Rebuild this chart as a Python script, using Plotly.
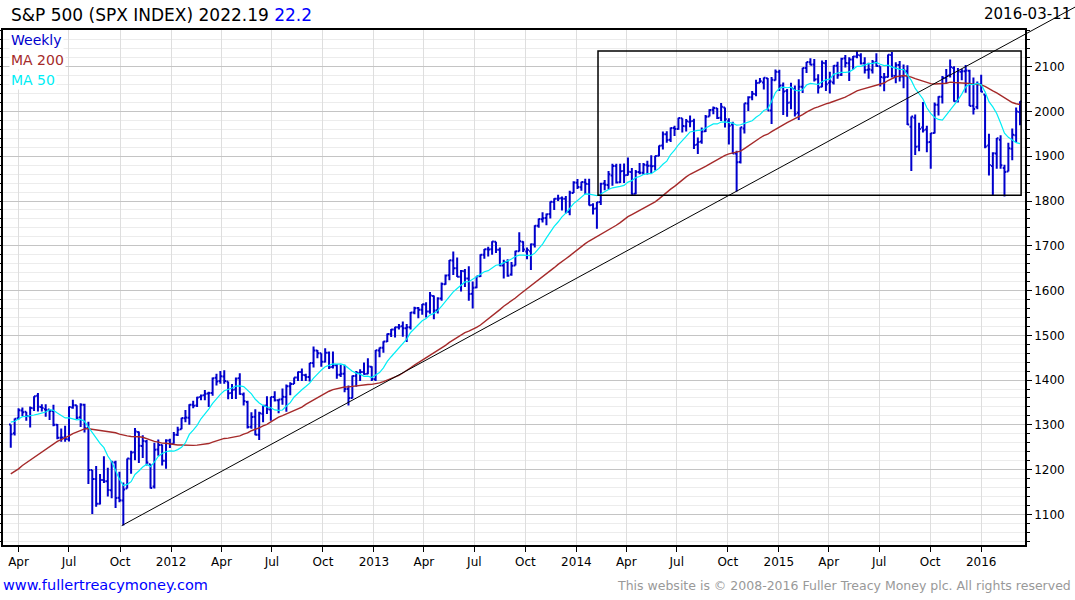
import pandas as pd
import plotly.graph_objects as go

# ---------------- data (weekly S&P 500 bars, week ending Friday) ----------------
first_week = "2011-03-18"
n_weeks = 261

# weekly closes before the visible window (used only to seed the moving averages)
pre_closes = [1064.9, 1091.6, 1117.5, 1076.8, 1022.6, 1078.0, 1064.9, 1102.7, 1101.6, 1121.6,
              1079.3, 1071.7, 1064.6, 1104.5, 1109.6, 1125.6, 1148.7, 1146.2, 1165.2, 1176.2,
              1183.1, 1183.3, 1225.9, 1199.2, 1199.7, 1189.4, 1224.7, 1240.4, 1243.9, 1256.8,
              1257.6, 1271.5, 1293.2, 1283.4, 1276.3, 1310.9, 1329.2, 1343.0, 1319.9, 1321.2,
              1304.3]

opens_2011 = [1301, 1281, 1315, 1332, 1329, 1319, 1337, 1365, 1340, 1335, 1334, 1331, 1300, 1271, 1272,
              1268, 1339, 1344, 1317, 1345, 1293, 1199, 1179, 1124, 1177, 1174, 1154, 1216, 1137, 1131,
              1158, 1224, 1239, 1284, 1253, 1263, 1212, 1162, 1245, 1255, 1220, 1265]
highs_2011 = [1301, 1314, 1337, 1339, 1329, 1341, 1364, 1371, 1346, 1346, 1334, 1345, 1302, 1292, 1298,
              1341, 1356, 1344, 1348, 1347, 1307, 1199, 1208, 1190, 1230, 1204, 1220, 1220, 1195, 1171,
              1225, 1242, 1293, 1285, 1277, 1266, 1212, 1260, 1267, 1256, 1268, 1269]
lows_2011 = [1249, 1276, 1312, 1320, 1309, 1294, 1331, 1330, 1330, 1318, 1311, 1297, 1268, 1262, 1262,
             1263, 1336, 1313, 1295, 1283, 1168, 1101, 1117, 1122, 1170, 1140, 1136, 1114, 1127, 1075,
             1158, 1191, 1221, 1215, 1226, 1209, 1158, 1158, 1231, 1209, 1202, 1248]
closes_2011 = [1279.2, 1313.8, 1332.4, 1328.2, 1319.7, 1337.4, 1363.6, 1340.2, 1337.8, 1333.3, 1331.1,
               1300.2, 1271.0, 1271.5, 1268.5, 1339.7, 1343.8, 1316.1, 1345.0, 1292.3, 1199.4, 1178.8,
               1123.5, 1176.8, 1174.0, 1154.2, 1216.0, 1136.4, 1131.4, 1155.5, 1224.6, 1238.3, 1285.1,
               1253.2, 1263.9, 1215.7, 1158.7, 1244.3, 1255.2, 1219.7, 1265.3, 1257.6]

opens_2012 = [1258, 1278, 1290, 1315, 1316, 1345, 1343, 1362, 1366, 1370, 1371, 1405, 1398, 1408, 1397,
              1371, 1379, 1404, 1368, 1351, 1296, 1318, 1278, 1325, 1343, 1334, 1362, 1355, 1357, 1362,
              1386, 1391, 1406, 1418, 1411, 1407, 1438, 1466, 1460, 1441, 1461, 1429, 1433, 1412, 1414,
              1380, 1360, 1409, 1416, 1418, 1414, 1430]
highs_2012 = [1284, 1296, 1316, 1333, 1346, 1354, 1363, 1368, 1378, 1374, 1406, 1414, 1420, 1422, 1397,
              1391, 1406, 1415, 1372, 1354, 1328, 1335, 1329, 1343, 1364, 1363, 1375, 1357, 1381, 1390,
              1395, 1406, 1419, 1426, 1414, 1438, 1475, 1467, 1460, 1471, 1464, 1464, 1436, 1434, 1434,
              1388, 1410, 1420, 1424, 1439, 1449, 1431]
lows_2012 = [1258, 1275, 1290, 1306, 1300, 1337, 1340, 1355, 1355, 1340, 1365, 1388, 1392, 1392, 1357,
             1358, 1358, 1367, 1343, 1292, 1291, 1277, 1266, 1306, 1324, 1309, 1352, 1326, 1345, 1329,
             1366, 1391, 1398, 1398, 1398, 1397, 1428, 1449, 1430, 1439, 1425, 1426, 1403, 1407, 1373,
             1343, 1359, 1385, 1398, 1412, 1413, 1398]
closes_2012 = [1277.8, 1289.1, 1315.4, 1316.3, 1344.9, 1342.6, 1361.2, 1365.7, 1369.6, 1370.9, 1404.2,
               1397.1, 1408.5, 1398.1, 1370.3, 1378.5, 1403.4, 1369.1, 1353.4, 1295.2, 1317.8, 1278.0,
               1325.7, 1342.8, 1335.0, 1362.2, 1354.7, 1356.8, 1362.7, 1386.0, 1391.0, 1405.9, 1418.2,
               1411.1, 1406.6, 1437.9, 1465.8, 1460.2, 1440.7, 1460.9, 1428.6, 1433.2, 1411.9, 1414.2,
               1379.9, 1359.9, 1409.2, 1416.2, 1418.1, 1413.6, 1430.2, 1402.4]

opens_2013 = [1402, 1466, 1472, 1486, 1503, 1513, 1518, 1520, 1516, 1518, 1551, 1561, 1557, 1569, 1553,
              1588, 1556, 1582, 1614, 1634, 1667, 1650, 1631, 1643, 1627, 1593, 1607, 1632, 1680, 1692,
              1692, 1709, 1691, 1656, 1664, 1636, 1656, 1688, 1709, 1687, 1688, 1703, 1745, 1759, 1762,
              1771, 1798, 1805, 1806, 1805, 1776, 1818]
highs_2013 = [1467, 1473, 1487, 1504, 1514, 1519, 1525, 1531, 1525, 1552, 1564, 1563, 1570, 1574, 1597,
              1589, 1585, 1618, 1636, 1668, 1687, 1674, 1646, 1648, 1654, 1620, 1632, 1681, 1693, 1698,
              1710, 1709, 1696, 1669, 1670, 1664, 1689, 1730, 1710, 1696, 1705, 1746, 1761, 1775, 1772,
              1799, 1806, 1814, 1810, 1811, 1823, 1844]
lows_2013 = [1398, 1451, 1461, 1485, 1496, 1495, 1513, 1497, 1485, 1513, 1547, 1538, 1546, 1540, 1548,
             1536, 1549, 1577, 1613, 1623, 1635, 1630, 1598, 1608, 1577, 1560, 1605, 1630, 1671, 1676,
             1680, 1684, 1654, 1627, 1631, 1633, 1656, 1687, 1686, 1670, 1646, 1696, 1740, 1752, 1746,
             1761, 1780, 1800, 1779, 1772, 1768, 1818]
closes_2013 = [1466.5, 1472.1, 1486.0, 1503.0, 1513.2, 1517.9, 1519.8, 1515.6, 1518.2, 1551.2, 1560.7,
               1556.9, 1569.2, 1553.3, 1588.9, 1555.3, 1582.2, 1614.4, 1633.7, 1667.5, 1649.6, 1630.7,
               1643.4, 1626.7, 1592.4, 1606.3, 1631.9, 1680.2, 1692.1, 1691.7, 1709.7, 1691.4, 1655.8,
               1663.5, 1633.0, 1655.2, 1688.0, 1709.9, 1691.8, 1690.5, 1703.2, 1744.5, 1759.8, 1761.6,
               1770.6, 1798.2, 1804.8, 1805.8, 1805.1, 1775.3, 1818.3, 1841.4]

opens_2014 = [1841, 1831, 1842, 1838, 1791, 1783, 1798, 1839, 1836, 1857, 1878, 1842, 1867, 1858, 1865,
              1816, 1865, 1863, 1880, 1879, 1878, 1901, 1924, 1949, 1937, 1963, 1961, 1985, 1967, 1977,
              1979, 1926, 1933, 1956, 1989, 2004, 2007, 1986, 2009, 1978, 1971, 1906, 1887, 1962, 2018,
              2032, 2039, 2064, 2065, 2074, 2002, 2070]
highs_2014 = [1849, 1843.2, 1850, 1850, 1795, 1798, 1841, 1847, 1867, 1883, 1883, 1883, 1884, 1897, 1874,
              1869, 1885, 1885, 1890, 1902, 1901, 1924, 1955, 1956, 1964, 1968, 1986, 1985, 1983, 1991,
              1984, 1942, 1964, 1992, 2005, 2011, 2008, 2019, 2009, 1985, 1977, 1912, 1965, 2018.5, 2034,
              2046, 2071, 2075, 2076, 2075, 2077, 2094]
lows_2014 = [1827, 1823, 1815, 1790, 1770, 1738, 1791, 1824, 1826, 1834, 1839, 1840, 1840, 1857, 1814,
             1815, 1860, 1858, 1859, 1862, 1868, 1900, 1915, 1930, 1932, 1945, 1959, 1953, 1955, 1965,
             1916, 1905, 1928, 1954, 1989, 1994, 1983, 1979, 1964, 1926, 1905, 1821, 1884, 1951, 2001,
             2025, 2034, 2064, 2049, 2002, 1972, 2069]
closes_2014 = [1831.4, 1842.4, 1838.7, 1790.3, 1782.6, 1797.0, 1838.6, 1836.3, 1859.5, 1878.0, 1841.1,
               1866.5, 1857.6, 1865.1, 1815.7, 1864.9, 1863.4, 1881.1, 1878.5, 1877.9, 1900.5, 1923.6,
               1949.4, 1936.2, 1962.9, 1961.0, 1985.4, 1967.6, 1978.2, 1978.3, 1925.2, 1931.6, 1955.1,
               1988.4, 2003.4, 2007.7, 1985.5, 2010.4, 1982.9, 1967.9, 1906.1, 1886.8, 1964.6, 2018.1,
               2031.9, 2039.8, 2063.5, 2067.6, 2075.4, 2002.3, 2070.7, 2088.8]

opens_2015 = [2088, 2058, 2046, 2020, 2050, 1997, 2055, 2097, 2110, 2105, 2072, 2055, 2108, 2064, 2065,
              2102, 2082, 2119, 2108, 2116, 2123, 2125, 2108, 2093, 2092, 2110, 2101, 2076, 2077, 2126,
              2079, 2104, 2078, 2090, 1966, 1986, 1922, 1964, 1960, 1932, 1952, 2015, 2033, 2075, 2081,
              2097, 2023, 2089, 2090, 2091, 2013, 2010, 2061]
highs_2015 = [2093, 2065, 2050, 2064, 2058, 2072, 2097.5, 2110.6, 2119, 2117, 2083, 2114, 2115, 2089, 2103,
              2111, 2120, 2126, 2121, 2124, 2134.7, 2130, 2121, 2109, 2115, 2130, 2101, 2086, 2127, 2133,
              2110, 2113, 2105, 2103, 1989, 1993, 1975, 2021, 1968, 1952, 2020, 2034, 2079, 2095, 2116,
              2101, 2097, 2095, 2104, 2093, 2076, 2067, 2082]
lows_2015 = [2046, 1992, 1988, 2005, 1989, 1981, 2041, 2086, 2103, 2067, 2040, 2054, 2046, 2040, 2060,
             2073, 2079, 2098, 2068, 2093, 2119, 2105, 2085, 2073, 2085, 2100, 2056, 2045, 2076, 2076,
             2063, 2067, 2052, 1970, 1867, 1903, 1911, 1953, 1909, 1872, 1951, 1991, 2018, 2062, 2076,
             2022, 2020, 2070, 2042, 2012, 1993, 2005, 2043]
closes_2015 = [2058.2, 2044.8, 2019.4, 2051.8, 1995.0, 2055.5, 2097.0, 2110.3, 2104.5, 2071.3, 2053.4,
               2108.1, 2061.0, 2067.0, 2102.1, 2081.2, 2117.7, 2108.3, 2116.1, 2122.7, 2126.1, 2107.4,
               2092.8, 2094.1, 2110.0, 2101.5, 2076.8, 2076.6, 2126.6, 2079.7, 2103.8, 2077.6, 2091.5,
               1970.9, 1988.9, 1921.2, 1961.1, 1958.0, 1931.3, 1951.4, 2014.9, 2033.1, 2075.2, 2079.4,
               2099.2, 2023.0, 2089.2, 2090.1, 2091.7, 2012.4, 2005.6, 2061.0, 2043.9]

opens_2016 = [2038, 1924, 1878, 1906, 1937, 1874, 1866, 1917, 1947, 1999]
highs_2016 = [2038, 1950, 1909, 1940.5, 1947, 1881, 1930, 1962, 2009, 2023]
lows_2016 = [1918, 1857, 1812, 1872, 1872, 1810, 1866, 1891, 1931, 1969]
closes_2016 = [1922.0, 1880.3, 1906.9, 1940.2, 1880.1, 1864.8, 1917.8, 1948.1, 2000.0, 2022.2]

# axis ticks
tick_dates = ["2011-04-01", "2011-07-01", "2011-10-01", "2012-01-01", "2012-04-01", "2012-07-01",
              "2012-10-01", "2013-01-01", "2013-04-01", "2013-07-01", "2013-10-01", "2014-01-01",
              "2014-04-01", "2014-07-01", "2014-10-01", "2015-01-01", "2015-04-01", "2015-07-01",
              "2015-10-01", "2016-01-01"]
tick_labels = ["Apr", "Jul", "Oct", "2012", "Apr", "Jul", "Oct", "2013", "Apr", "Jul", "Oct", "2014",
               "Apr", "Jul", "Oct", "2015", "Apr", "Jul", "Oct", "2016"]
y_ticks = [1100, 1200, 1300, 1400, 1500, 1600, 1700, 1800, 1900, 2000, 2100]

# analyst drawings
trend_anchor_a = ("2011-10-04", 1074.77)
trend_anchor_b = ("2014-10-15", 1820.66)
box_x = ("2014-02-09", "2016-03-13")
box_y = (1813, 2135)

# ---------------- build ----------------
opens = opens_2011 + opens_2012 + opens_2013 + opens_2014 + opens_2015 + opens_2016
highs = highs_2011 + highs_2012 + highs_2013 + highs_2014 + highs_2015 + highs_2016
lows = lows_2011 + lows_2012 + lows_2013 + lows_2014 + lows_2015 + lows_2016
closes = closes_2011 + closes_2012 + closes_2013 + closes_2014 + closes_2015 + closes_2016
assert len(opens) == len(highs) == len(lows) == len(closes) == n_weeks

dates = pd.date_range(first_week, periods=n_weeks, freq="W-FRI")
all_close = pd.Series(pre_closes + closes)
ma200 = all_close.rolling(40).mean().iloc[len(pre_closes):].tolist()
ma50 = all_close.rolling(10).mean().iloc[len(pre_closes):].tolist()

x_range = ["2011-03-04", "2016-03-20"]
y_range = [1031.6, 2182]

FONT = "DejaVu Sans"
BAR = "#0000cc"

fig = go.Figure()
fig.add_trace(go.Ohlc(x=dates, open=opens, high=highs, low=lows, close=closes,
                      increasing=dict(line=dict(color=BAR, width=2)),
                      decreasing=dict(line=dict(color=BAR, width=2)),
                      tickwidth=0.45, showlegend=False, hoverinfo="skip"))
fig.add_trace(go.Scatter(x=dates, y=ma200, mode="lines", line=dict(color="#a52a2a", width=1.4),
                         showlegend=False, hoverinfo="skip"))
fig.add_trace(go.Scatter(x=dates, y=ma50, mode="lines", line=dict(color="#00eef5", width=1.2),
                         showlegend=False, hoverinfo="skip"))

# trend line in paper coordinates so it can run past the plot frame
t0 = pd.Timestamp(x_range[0]).value
t1 = pd.Timestamp(x_range[1]).value
ta = pd.Timestamp(trend_anchor_a[0]).value
tb = pd.Timestamp(trend_anchor_b[0]).value
slope = (trend_anchor_b[1] - trend_anchor_a[1]) / (tb - ta)
px_end = 1.07
t_end = t0 + px_end * (t1 - t0)
v_end = trend_anchor_a[1] + slope * (t_end - ta)


def to_px(t):
    return (t - t0) / (t1 - t0)


def to_py(v):
    return (v - y_range[0]) / (y_range[1] - y_range[0])


fig.add_shape(type="line", xref="paper", yref="paper",
              x0=to_px(ta), y0=to_py(trend_anchor_a[1]), x1=px_end, y1=to_py(v_end),
              line=dict(color="black", width=1))
fig.add_shape(type="rect", xref="x", yref="y", x0=box_x[0], x1=box_x[1], y0=box_y[0], y1=box_y[1],
              line=dict(color="black", width=1.5))

W, H = 1075, 600
ml, mr, mt, mb = 3, 50, 30, 55
pw, ph = W - ml - mr, H - mt - mb


def pxx(p):
    return (p - ml) / pw


def pyy(p):
    return (H - mb - p) / ph


ann = []
ann.append(dict(text="S&amp;P 500 (SPX INDEX) 2022.19 <span style='color:#0000ff'>22.2</span>",
                xref="paper", yref="paper", x=pxx(9), y=pyy(15), xanchor="left", yanchor="middle",
                showarrow=False, font=dict(family=FONT, size=17, color="black")))
ann.append(dict(text="2016-03-11", xref="paper", yref="paper", x=pxx(1073), y=pyy(14),
                xanchor="right", yanchor="middle", showarrow=False,
                font=dict(family=FONT, size=15, color="black")))
for label, color, ypix in [("Weekly", "#0000cc", 40), ("MA 200", "#a52a2a", 60), ("MA 50", "#00eef5", 80)]:
    ann.append(dict(text=label, xref="paper", yref="paper", x=pxx(9), y=pyy(ypix),
                    xanchor="left", yanchor="middle", showarrow=False, bgcolor="white", borderpad=1,
                    font=dict(family=FONT, size=14, color=color)))
ann.append(dict(text="www.fullertreacymoney.com", xref="paper", yref="paper", x=pxx(1), y=pyy(585),
                xanchor="left", yanchor="middle", showarrow=False,
                font=dict(family=FONT, size=14.5, color="#0000ff")))
ann.append(dict(text="This website is © 2008-2016 Fuller Treacy Money plc. All rights reserved",
                xref="paper", yref="paper", x=pxx(1073), y=pyy(585), xanchor="right", yanchor="middle",
                showarrow=False, font=dict(family=FONT, size=12.5, color="#999999")))

fig.update_layout(
    width=W, height=H, autosize=False,
    margin=dict(l=ml, r=mr, t=mt, b=mb, pad=0, autoexpand=False),
    paper_bgcolor="white", plot_bgcolor="white",
    font=dict(family=FONT, size=12, color="black"),
    annotations=ann,
    showlegend=False,
    xaxis=dict(type="date", range=x_range, rangeslider=dict(visible=False), automargin=False,
               tickvals=tick_dates, ticktext=tick_labels, ticks="outside", ticklen=5,
               tickcolor="black", showgrid=True, gridcolor="#dedede", gridwidth=1,
               showline=True, linecolor="black", linewidth=1.5, mirror=True,
               tickfont=dict(family=FONT, size=12, color="black"), zeroline=False),
    yaxis=dict(side="right", range=y_range, tickvals=y_ticks, ticks="outside", ticklen=5,
               automargin=False,
               tickcolor="black", showgrid=True, gridcolor="#c4c4c4", gridwidth=1,
               minor=dict(dtick=20, tick0=1000, ticks="outside", ticklen=3, tickcolor="black",
                          showgrid=True, gridcolor="#ececec", gridwidth=1),
               showline=True, linecolor="black", linewidth=1.5, mirror="ticks",
               tickfont=dict(family=FONT, size=12, color="black"), zeroline=False),
)

fig.write_html("out.html")
